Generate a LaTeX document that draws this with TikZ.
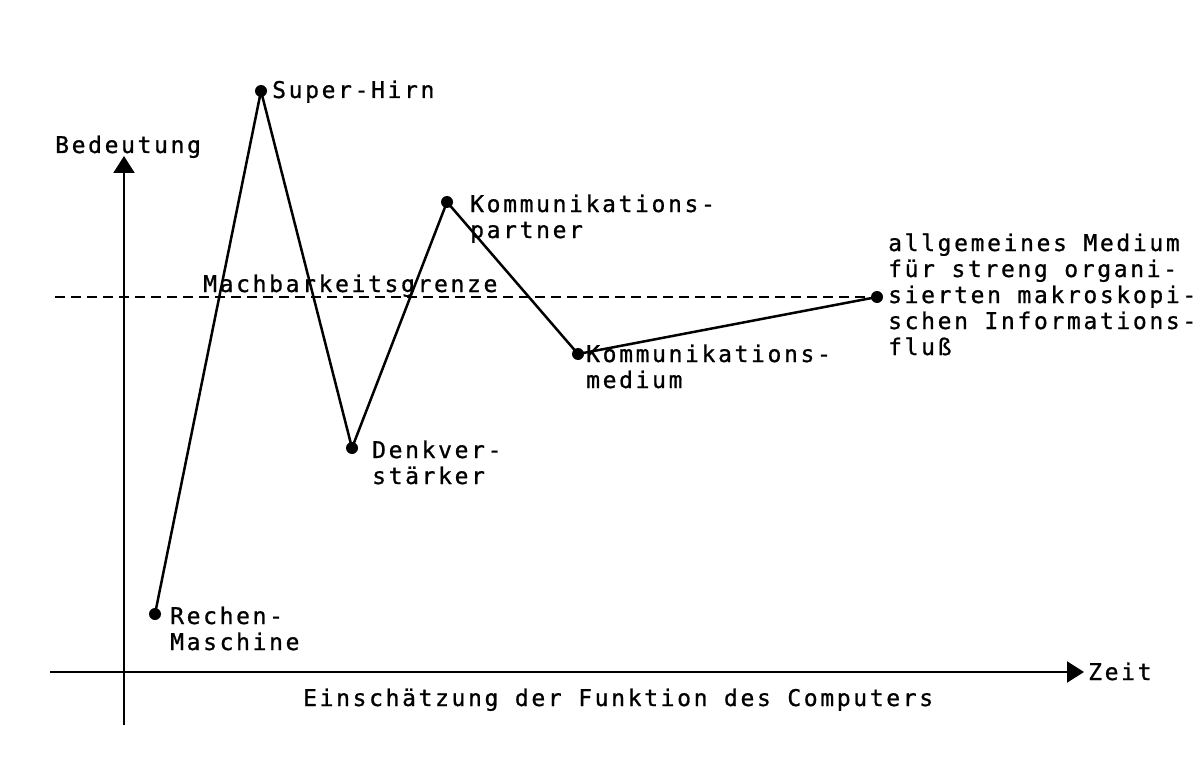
\documentclass[tikz,border=0pt]{standalone}
\usepackage{fontspec}
\setmonofont[LetterSpace=11.5,FakeBold=0.9]{DejaVu Sans Mono}
\usetikzlibrary{arrows.meta}
\begin{document}
\begin{tikzpicture}[x=1pt,y=-1pt,
  lbl/.style={font=\ttfamily\fontsize{23}{26}\selectfont, inner sep=0pt, anchor=base west, align=left},
  dot/.style={circle, fill=black, inner sep=0pt, minimum size=12pt},
  curve/.style={line width=2.5pt},
  axis/.style={line width=2.2pt, -{Triangle[length=17pt,width=21pt]}}]
\useasboundingbox (0,0) rectangle (1203,757);
% axes
\coordinate (y0) at (124,725);
\coordinate (y1) at (124,156);
\coordinate (x0) at (50,672);
\coordinate (x1) at (1084,672);
\draw[axis] (y0) -- (y1);
\draw[axis] (x0) -- (x1);
\node[lbl] (bed) at (55,153) {Bedeutung};
\node[lbl] (zeit) at (1088,680) {Zeit};
\node[lbl] (ein) at (303,706) {Einschätzung der Funktion des Computers};
% Machbarkeitsgrenze
\coordinate (m0) at (55,297);
\node[dot] (p6) at (877,297) {};
\draw[line width=2.2pt, dash pattern=on 10pt off 6pt] (m0) -- (p6);
\node[lbl] (mach) at (203,292) {Machbarkeitsgrenze};
% points
\node[dot] (p1) at (155,614) {};
\node[dot] (p2) at (261,91) {};
\node[dot] (p3) at (352,448) {};
\node[dot] (p4) at (447,202) {};
\node[dot] (p5) at (578,354) {};
\draw[curve] (p1.center) -- (p2.center) -- (p3.center) -- (p4.center) -- (p5.center) -- (p6.center);
% labels (base = baseline of last line)
\node[lbl] (l1) at (170,650) {Rechen-\\Maschine};
\node[lbl] (l2) at (272,98) {Super-Hirn};
\node[lbl] (l3) at (372,484) {Denkver-\\stärker};
\node[lbl] (l4) at (470,238) {Kommunikations-\\partner};
\node[lbl] (l5) at (586,388) {Kommunikations-\\medium};
\node[lbl] (l6) at (888,355) {allgemeines Medium\\für streng organi-\\sierten makroskopi-\\schen Informations-\\fluß};
\end{tikzpicture}
\end{document}
